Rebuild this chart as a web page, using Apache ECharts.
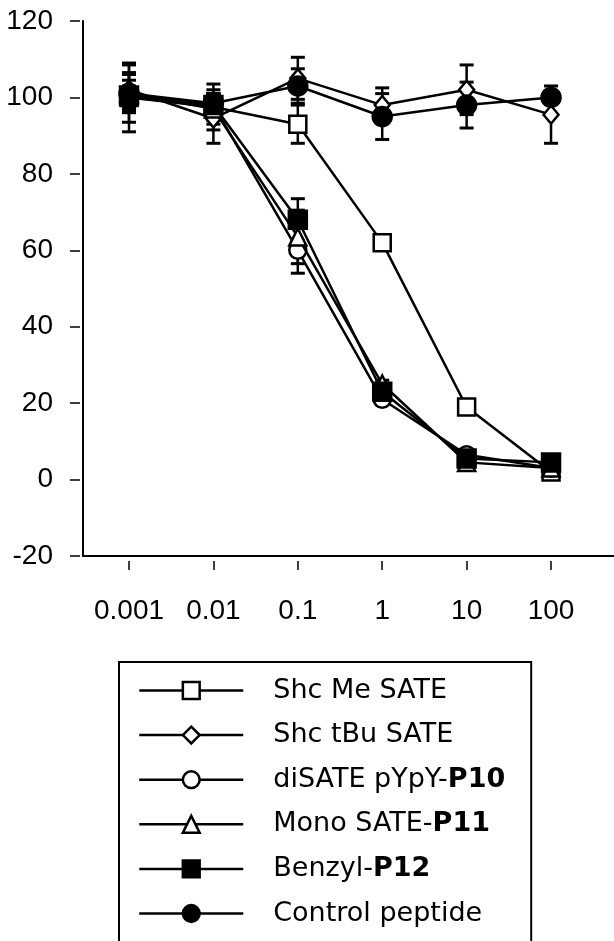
<!DOCTYPE html>
<html>
<head>
<meta charset="utf-8">
<script src="https://cdn.jsdelivr.net/npm/echarts@6/dist/echarts.min.js"></script>
<style>
html,body{margin:0;padding:0;background:#fff;}
#chart{width:614px;height:941px;}
</style>
</head>
<body>
<div id="chart"></div>
<script>
// ---- data ----
const concentrations = [0.001, 0.01, 0.1, 1, 10, 100];
const xTickLabels = ['0.001', '0.01', '0.1', '1', '10', '100'];
const yTicks = [-20, 0, 20, 40, 60, 80, 100, 120];

const seriesNames = ['Shc Me SATE', 'Shc tBu SATE', 'diSATE pYpY-P10', 'Mono SATE-P11', 'Benzyl-P12', 'Control peptide'];

const shcMe   = [100, 97.5, 93, 62, 19, 2];
const shcTbu  = [102, 94.5, 105, 98, 102, 95.5];
const diSATE  = [100, 98, 60, 21, 6.5, 3];
const monoSATE= [101, 97, 63.5, 25, 4.5, 3];
const benzyl  = [100.5, 98, 68, 23, 5.5, 4.5];
const control = [101, 98.5, 103, 95, 98, 100];

const shcMeErr   = [9, 6, 5, 1, 1, 1];
const shcTbuErr  = [4.5, 6.5, 5.5, 4.5, 6.5, 7.5];
const diSATEErr  = [3, 3, 6, 1, 1, 1];
const monoSATEErr= [5, 4, 7, 1, 1, 1];
const benzylErr  = [4, 4, 5.5, 1, 1, 1];
const controlErr = [7.5, 2.5, 4.5, 6, 6, 1.5];

// ---- build ----
const chart = echarts.init(document.getElementById('chart'));
const lx = concentrations.map(c => Math.log10(c));
const AX_FONT = 'Liberation Sans, Arial, sans-serif';

const styles = [
  {symbol: 'rect', size: 17, fill: '#fff'},
  {symbol: 'diamond', size: [15, 18], fill: '#fff'},
  {symbol: 'circle', size: 17, fill: '#fff'},
  {symbol: 'triangle', size: 17, fill: '#fff'},
  {symbol: 'rect', size: 18, fill: '#000'},
  {symbol: 'circle', size: 19, fill: '#000'}
];
const values = [shcMe, shcTbu, diSATE, monoSATE, benzyl, control];
const errs = [shcMeErr, shcTbuErr, diSATEErr, monoSATEErr, benzylErr, controlErr];

function renderErr(params, api) {
  const x = api.value(0), lo = api.value(1), hi = api.value(2);
  const a = api.coord([x, lo]), b = api.coord([x, hi]);
  const hw = 7;
  return {
    type: 'group',
    children: [
      {type: 'line', shape: {x1: a[0], y1: a[1], x2: b[0], y2: b[1]}, style: {stroke: '#000', lineWidth: 2.5}},
      {type: 'line', shape: {x1: a[0]-hw, y1: a[1], x2: a[0]+hw, y2: a[1]}, style: {stroke: '#000', lineWidth: 3}},
      {type: 'line', shape: {x1: b[0]-hw, y1: b[1], x2: b[0]+hw, y2: b[1]}, style: {stroke: '#000', lineWidth: 3}}
    ]
  };
}

const series = [];
values.forEach((vals, i) => {
  series.push({
    type: 'custom',
    name: seriesNames[i] + ' err',
    xAxisIndex: 0, yAxisIndex: 0,
    renderItem: renderErr,
    encode: {x: 0, y: [1, 2]},
    z: 1,
    silent: true,
    data: vals.map((v, j) => [lx[j], v - errs[i][j], v + errs[i][j]])
  });
});
values.forEach((vals, i) => {
  series.push({
    type: 'line',
    name: seriesNames[i],
    xAxisIndex: 0, yAxisIndex: 0,
    z: 2 + i,
    symbol: styles[i].symbol,
    symbolSize: styles[i].size,
    showAllSymbol: true,
    lineStyle: {color: '#000', width: 2.5},
    itemStyle: {color: styles[i].fill, borderColor: '#000', borderWidth: 2.5, opacity: 1},
    emphasis: {disabled: true},
    animation: false,
    data: vals.map((v, j) => [lx[j], v])
  });
});

const xMin = -3.545, xMax = 2.746;

const option = {
  animation: false,
  backgroundColor: '#fff',
  grid: {left: 83, right: 0, top: 21, bottom: 385, containLabel: false, outerBoundsMode: 'none'},
  xAxis: [
    {type: 'value', min: xMin, max: xMax, position: 'bottom',
     axisLine: {show: true, onZero: false, lineStyle: {color: '#000', width: 2}},
     axisTick: {show: false}, axisLabel: {show: false}, splitLine: {show: false}},
    {type: 'value', min: xMin, max: xMax, position: 'bottom', offset: 5, gridIndex: 0,
     axisLine: {show: false, onZero: false},
     axisTick: {show: true, length: 9, customValues: lx, lineStyle: {color: '#000', width: 1.5}},
     axisLabel: {show: true, customValues: lx, margin: 36, color: '#000', fontSize: 28, fontFamily: AX_FONT,
       formatter: (v) => { const k = lx.findIndex(t => Math.abs(t - v) < 1e-6); return k >= 0 ? xTickLabels[k] : ''; }},
     splitLine: {show: false}}
  ],
  yAxis: [
    {type: 'value', min: yTicks[0], max: yTicks[yTicks.length-1], interval: 20,
     axisLine: {show: true, onZero: false, lineStyle: {color: '#000', width: 2}},
     axisTick: {show: false}, axisLabel: {show: false}, splitLine: {show: false}},
    {type: 'value', min: yTicks[0], max: yTicks[yTicks.length-1], interval: 20, offset: 3, position: 'left',
     axisLine: {show: false, onZero: false},
     axisTick: {show: true, length: 10, lineStyle: {color: '#000', width: 1.5}},
     axisLabel: {show: true, margin: 27, color: '#000', fontSize: 28, fontFamily: AX_FONT},
     splitLine: {show: false}}
  ],
  legend: {
    data: seriesNames,
    orient: 'vertical',
    left: 119, top: 662, height: 300,
    itemWidth: 104, itemHeight: 21, itemGap: 17.6,
    padding: [15, 26, 60, 19],
    borderColor: '#000', borderWidth: 2,
    selectedMode: false,
    lineStyle: {width: 2.5},
    itemStyle: {borderWidth: 2.5},
    textStyle: {color: '#000', fontSize: 27, fontFamily: 'DejaVu Sans, sans-serif', padding: [0, 0, 0, 25],
      rich: {b: {fontWeight: 'bold', fontSize: 27, fontFamily: 'DejaVu Sans, sans-serif', color: '#000'}}},
    formatter: (name) => name.replace(/(P1\d)$/, '{b|$1}')
  },
  series: series
};
chart.setOption(option);
</script>
</body>
</html>
